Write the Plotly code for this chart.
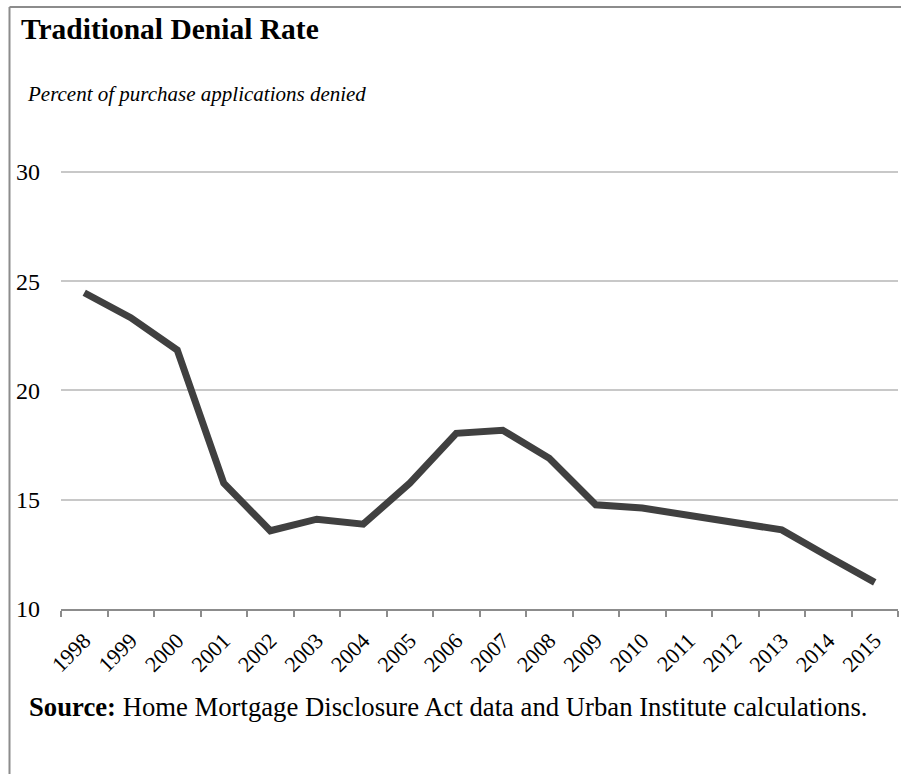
import plotly.graph_objects as go

years = [str(y) for y in range(1998, 2016)]
denial_rate = [24.47, 23.33, 21.85, 15.76, 13.58, 14.11, 13.88, 15.76, 18.04,
               18.18, 16.9, 14.77, 14.62, 14.28, 13.96, 13.62, 12.4, 11.22]
y_ticks = [10, 15, 20, 25, 30]

title_text = "<b>Traditional Denial Rate</b>"
subtitle_text = "<i>Percent of purchase applications denied</i>"
source_text = "<b>Source:</b> Home Mortgage Disclosure Act data and Urban Institute calculations."

SERIF = "Liberation Serif, Times New Roman, serif"

fig = go.Figure()
fig.add_trace(go.Scatter(
    x=years, y=denial_rate, mode="lines",
    line=dict(color="#404040", width=7, shape="linear"),
    hoverinfo="skip", showlegend=False,
))

W, H = 901, 774
L, R, T, B = 61, 3, 161, 165
pw = W - L - R
ph = H - T - B

def px(x):
    return (x - L) / pw

def py(y):
    return (H - B - y) / ph

fig.update_layout(
    width=W, height=H,
    margin=dict(l=L, r=R, t=T, b=B),
    paper_bgcolor="white", plot_bgcolor="white",
    font=dict(family=SERIF, color="black"),
    xaxis=dict(
        type="category", range=[-0.5, 17.5],
        showgrid=False, showline=True, linecolor="#8c8c8c", linewidth=2,
        ticks="outside", tickson="boundaries", ticklen=6, tickwidth=1.5,
        tickcolor="#8c8c8c", tickangle=-45, ticklabelstandoff=8,
        tickfont=dict(family=SERIF, size=22, color="black"),
        zeroline=False, fixedrange=True,
    ),
    yaxis=dict(
        range=[10, 30.5], tickvals=y_ticks,
        showgrid=True, gridcolor="#c8c8c8", gridwidth=1.5,
        showline=False, zeroline=False, ticks="",
        ticklabelstandoff=20,
        tickfont=dict(family=SERIF, size=24, color="black"),
        fixedrange=True,
    ),
)

# frame lines (top and left)
fig.add_shape(type="line", xref="paper", yref="paper",
              x0=px(9.5), x1=px(901), y0=py(7), y1=py(7),
              line=dict(color="#8c8c8c", width=2))
fig.add_shape(type="line", xref="paper", yref="paper",
              x0=px(9.5), x1=px(9.5), y0=py(7), y1=py(774),
              line=dict(color="#8c8c8c", width=2))

fig.add_annotation(text=title_text, xref="paper", yref="paper",
                   x=px(19), y=py(28.5), xanchor="left", yanchor="middle",
                   showarrow=False, font=dict(family=SERIF, size=29.5, color="black"))
fig.add_annotation(text=subtitle_text, xref="paper", yref="paper",
                   x=px(25), y=py(94), xanchor="left", yanchor="middle",
                   showarrow=False, font=dict(family=SERIF, size=21, color="black"))
fig.add_annotation(text=source_text, xref="paper", yref="paper",
                   x=px(27), y=py(706.5), xanchor="left", yanchor="middle",
                   showarrow=False, font=dict(family=SERIF, size=26.7, color="black"))

fig.write_html("out.html", config={"displayModeBar": False},
               post_script="document.body.style.margin='0';")
